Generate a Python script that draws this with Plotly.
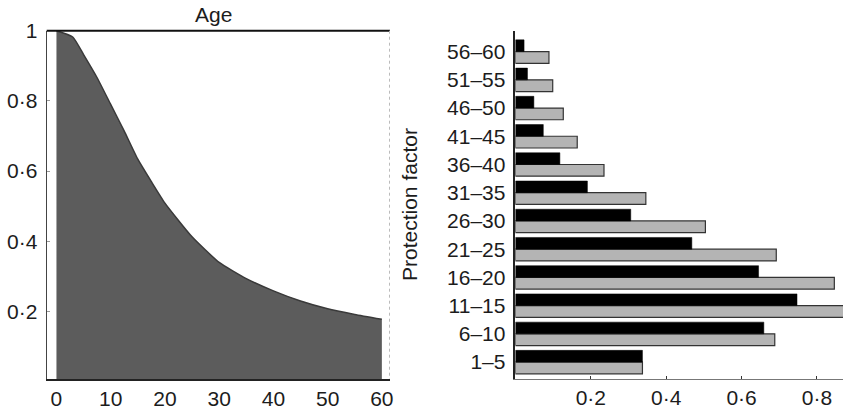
import plotly.graph_objects as go

# Left panel: protection factor by age
ages = [0, 3, 5, 7.5, 10, 12.5, 15, 17.5, 20, 25, 30, 35, 40, 45, 50, 55, 60]
protection = [1.0, 0.982, 0.932, 0.866, 0.79, 0.714, 0.634, 0.57, 0.509, 0.413, 0.34, 0.294, 0.259, 0.23, 0.208, 0.192, 0.178]
left_xticks = [0, 10, 20, 30, 40, 50, 60]
left_yticks = [0.2, 0.4, 0.6, 0.8, 1.0]
left_yticklabels = ["0·2", "0·4", "0·6", "0·8", "1"]

# Right panel: age groups
groups = ["1–5", "6–10", "11–15", "16–20", "21–25", "26–30",
          "31–35", "36–40", "41–45", "46–50", "51–55", "56–60"]
black_vals = [0.337, 0.659, 0.747, 0.645, 0.468, 0.306, 0.191, 0.118, 0.074, 0.049, 0.032, 0.023]
gray_vals = [0.337, 0.688, 0.885, 0.846, 0.692, 0.504, 0.346, 0.235, 0.164, 0.127, 0.099, 0.089]
right_xticks = [0.2, 0.4, 0.6, 0.8]
right_xticklabels = ["0·2", "0·4", "0·6", "0·8"]

W, H = 843, 414
FONT = "Liberation Sans, Arial, sans-serif"
TXT = "#1c1c1c"
FS = 21

def fx(px):
    return px / W

def fy(py):
    return 1 - py / H

fig = go.Figure()

fig.add_trace(go.Scatter(
    x=ages, y=protection, mode="lines", line=dict(color="#3a3a3a", width=1.5, shape="spline", smoothing=0.5),
    fill="tozeroy", fillcolor="#5c5c5c", xaxis="x", yaxis="y", showlegend=False, hoverinfo="skip"))

# gray bars (lower in each pair) then black bars
fig.add_trace(go.Bar(
    y=groups, x=gray_vals, orientation="h", marker=dict(color="#b4b4b4", line=dict(color="#333333", width=1.2)),
    xaxis="x2", yaxis="y2", showlegend=False, offsetgroup="g", hoverinfo="skip"))
fig.add_trace(go.Bar(
    y=groups, x=black_vals, orientation="h", marker=dict(color="#000000", line=dict(color="#000000", width=0.5)),
    xaxis="x2", yaxis="y2", showlegend=False, offsetgroup="b", hoverinfo="skip"))

y_dom = [fy(379), fy(30.7)]

fig.update_layout(
    width=W, height=H,
    margin=dict(l=0, r=0, t=0, b=0),
    paper_bgcolor="white", plot_bgcolor="white",
    font=dict(family=FONT, size=FS, color=TXT),
    barmode="group", bargap=0.17, bargroupgap=0.0,
    xaxis=dict(domain=[fx(46.7), fx(390)], range=[-1.8, 61.5], tickvals=left_xticks,
               showgrid=False, zeroline=False, showline=True, linecolor="#222222", linewidth=1.5,
               mirror=False, ticks="", tickfont=dict(size=FS, color=TXT), automargin=False, anchor="y"),
    yaxis=dict(domain=y_dom, range=[0.008, 1.0], tickvals=left_yticks, ticktext=left_yticklabels,
               showgrid=False, zeroline=False, showline=True, linecolor="#444444", linewidth=1.2,
               ticks="inside", ticklen=3, tickcolor="#999999", ticklabelstandoff=4,
               tickfont=dict(size=FS, color=TXT), automargin=False, anchor="x"),
    xaxis2=dict(domain=[fx(515.4), 1.0], range=[0, 0.869], tickvals=right_xticks, ticktext=right_xticklabels,
                showgrid=False, zeroline=False, showline=True, linecolor="#777777", linewidth=1,
                ticks="inside", ticklen=3, tickcolor="#333333",
                tickfont=dict(size=FS, color=TXT), automargin=False, anchor="y2"),
    yaxis2=dict(domain=y_dom, range=[-0.6, 11.74], showgrid=False, zeroline=False, showline=True,
                linecolor="#222222", linewidth=1.5, ticks="", ticklabelstandoff=4,
                tickfont=dict(size=FS, color=TXT), automargin=False, anchor="x2"),
    shapes=[
        # top border of left panel
        dict(type="line", xref="paper", yref="paper", x0=fx(46.7), x1=fx(390), y0=fy(30.7), y1=fy(30.7),
             line=dict(color="#111111", width=2)),
        # faint dotted right border of left panel
        dict(type="line", xref="paper", yref="paper", x0=fx(389.5), x1=fx(389.5), y0=fy(30.7), y1=fy(379),
             line=dict(color="#bbbbbb", width=1, dash="dot")),
    ],
    annotations=[
        dict(text="Age", xref="paper", yref="paper", x=fx(213), y=fy(14), showarrow=False,
             font=dict(size=FS, color=TXT), xanchor="center", yanchor="middle"),
        dict(text="Protection factor", xref="paper", yref="paper", x=fx(409), y=fy(205), showarrow=False,
             textangle=-90, font=dict(size=FS, color=TXT), xanchor="center", yanchor="middle"),
    ],
)

fig.write_html("out.html", config={"displayModeBar": False},
               post_script="document.body.style.margin='0';document.body.style.padding='0';")
